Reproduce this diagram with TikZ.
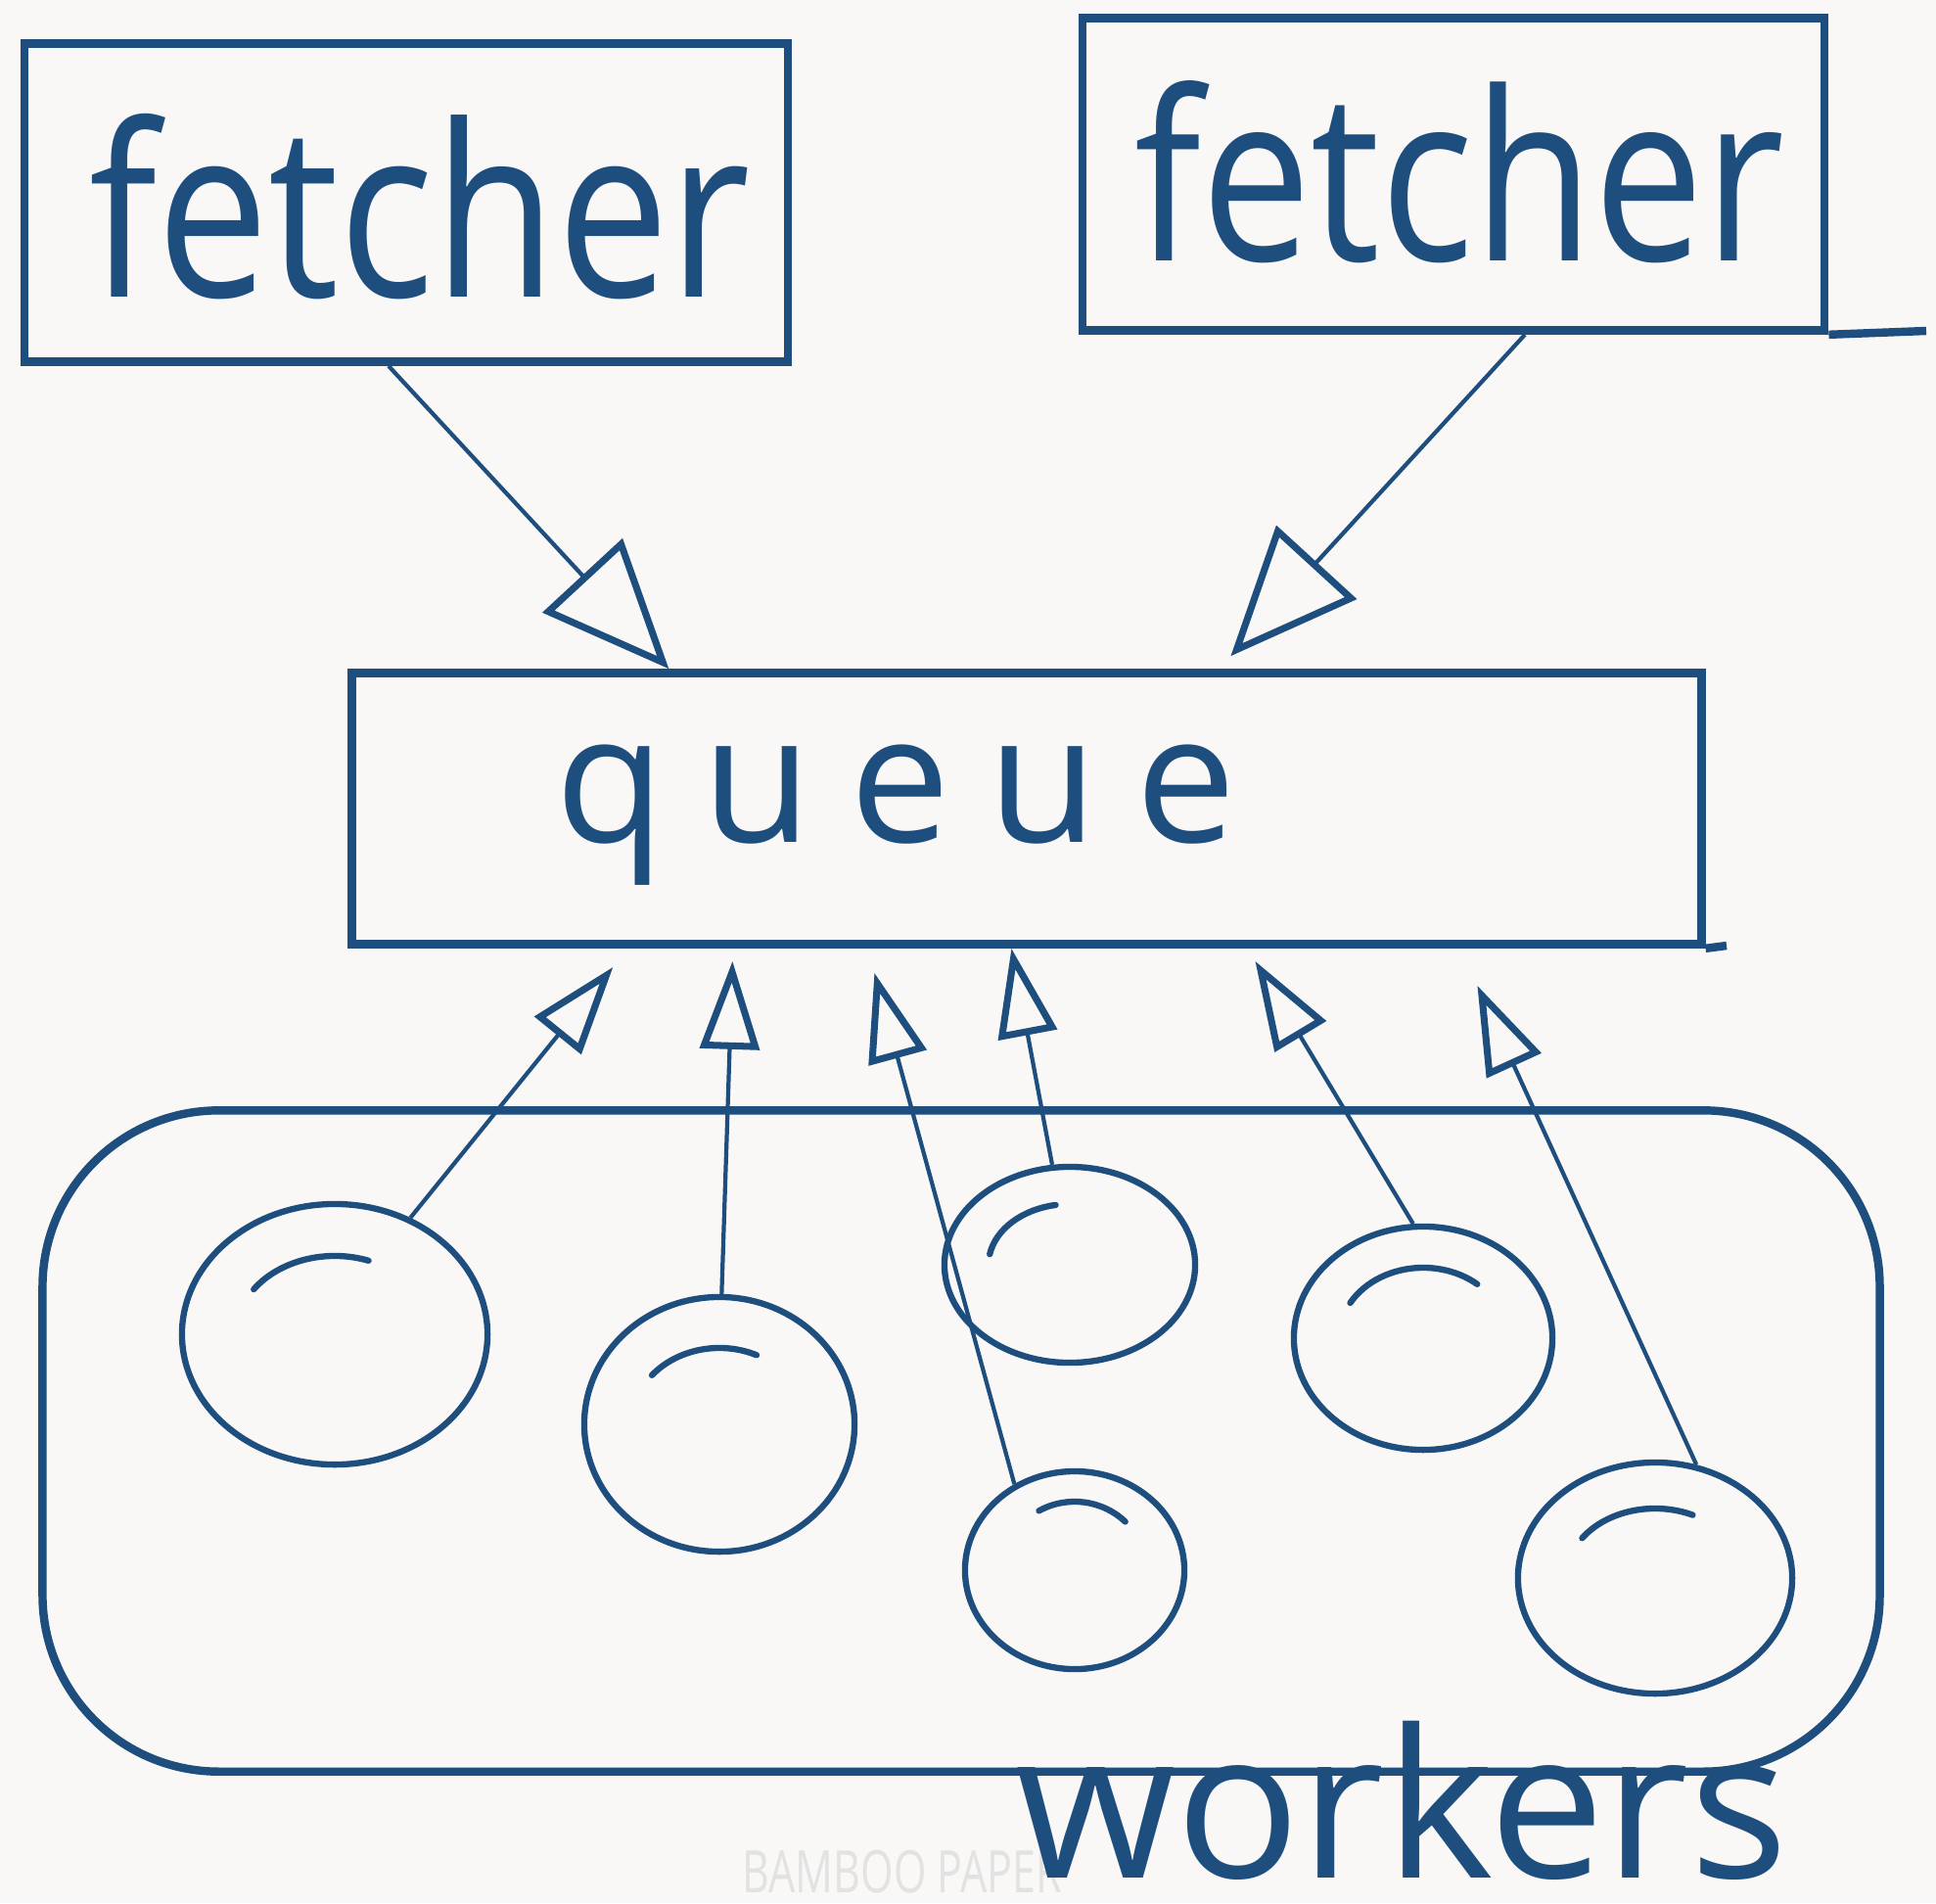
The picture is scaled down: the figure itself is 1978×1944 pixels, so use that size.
\documentclass[tikz,border=0pt]{standalone}
\usepackage{fontspec}
\setmainfont{Open Sans}
\newfontfamily\spacedfont[LetterSpace=21]{Open Sans}
\usetikzlibrary{arrows.meta,shapes.geometric,calc}
\definecolor{ink}{RGB}{30,78,126}
\definecolor{paper}{RGB}{249,248,247}
\definecolor{wmark}{RGB}{226,226,226}
\newcommand{\hilite}[5]{\draw[hl] (#1.center) ++(#4:#2 and #3) arc[start angle=#4, end angle=#5, x radius=#2, y radius=#3];}
\begin{document}
\begin{tikzpicture}[x=0.01cm, y=0.01cm,
  box/.style={draw=ink, line width=2.4pt, rectangle, inner sep=0pt},
  boxline/.style={draw=ink, line width=2.4pt},
  worker/.style={draw=ink, line width=1.8pt, ellipse, inner sep=0pt},
  hl/.style={draw=ink, line width=1.8pt, line cap=round},
  bigarrow/.style={draw=ink, line width=1.2pt, -{Triangle[open, length=1.3cm, width=1.1cm, line width=2pt]}},
  smallarrow/.style={draw=ink, line width=1.2pt, -{Triangle[open, length=0.9cm, width=0.6cm, line width=2pt]}},
  inktext/.style={text=ink, inner sep=0pt}]
\fill[paper] (0,0) rectangle (1978,-1944);
\useasboundingbox (0,0) rectangle (1978,-1944);

% watermark
\node[text=wmark, inner sep=0pt] (wm) at (922,-1912) {\scalebox{0.72}[1]{\fontsize{17}{17}\selectfont BAMBOO PAPER}};

% boxes
\node[box, minimum width=7.8cm, minimum height=3.25cm] (f1) at (415,-207) {};
\node[box, minimum width=7.58cm, minimum height=3.19cm] (f2) at (1485,-178) {};
\node[box, minimum width=13.78cm, minimum height=2.77cm] (q) at (1049,-826) {};
\node[draw=ink, line width=2.4pt, rounded corners=1.8cm, minimum width=18.76cm, minimum height=6.75cm] (pool) at (982,-1472) {};

\coordinate (f2x) at (1968,-338);
\coordinate (qx) at (1764,-966);
\draw[boxline] (f2.south east) -- (f2x);
\draw[boxline] (q.south east) -- (qx);

% texts
\node[inktext, anchor=base] (t1) at (429,-303) {\scalebox{1}[1.2]{\fontsize{58}{64}\selectfont fetcher}};
\node[inktext, anchor=base] (t2) at (1491,-266) {\scalebox{1}[1.2]{\fontsize{57}{64}\selectfont fetcher}};
\node[inktext, anchor=base] (tq) at (915,-860) {\spacedfont\fontsize{52}{60}\selectfont queue};
\node[inktext, anchor=base] (tw) at (1432,-1918) {\fontsize{60}{66}\selectfont workers};

% workers
\node[worker, minimum width=3.12cm, minimum height=2.66cm] (w1) at (342,-1363) {};
\node[worker, minimum width=2.76cm, minimum height=2.60cm] (w2) at (735,-1455) {};
\node[worker, minimum width=2.24cm, minimum height=2.02cm] (w3) at (1098,-1604) {};
\node[worker, minimum width=2.56cm, minimum height=2.00cm] (w4) at (1093,-1292) {};
\node[worker, minimum width=2.64cm, minimum height=2.28cm] (w5) at (1454,-1367) {};
\node[worker, minimum width=2.80cm, minimum height=2.36cm] (w6) at (1691,-1612) {};

\hilite{w1}{1.01cm}{0.80cm}{145}{70}
\hilite{w2}{0.90cm}{0.78cm}{140}{65}
\hilite{w3}{0.73cm}{0.70cm}{120}{45}
\hilite{w4}{0.83cm}{0.62cm}{170}{100}
\hilite{w5}{0.86cm}{0.72cm}{150}{50}
\hilite{w6}{0.91cm}{0.71cm}{145}{65}

% fetcher arrows
\draw[bigarrow] ($(f1.south)+(-18,0)$) -- ($(q.north west)+(328,0)$);
\draw[bigarrow] ($(f2.south)+(73,0)$) -- ($(q.north west)+(902,13)$);

% worker arrows
\draw[smallarrow] (w1.57) -- ($(q.south west)+(271,-19)$);
\draw[smallarrow] (w2.89) -- ($(q.south west)+(393,-13)$);
\draw[smallarrow] (w3.125) -- ($(q.south west)+(538,-25)$);
\draw[smallarrow] (w4.100) -- ($(q.south west)+(678,0)$);
\draw[smallarrow] (w5.95) -- ($(q.south west)+(927,-13)$);
\draw[smallarrow] (w6.70) -- ($(q.south west)+(1154,-38)$);
\end{tikzpicture}
\end{document}
